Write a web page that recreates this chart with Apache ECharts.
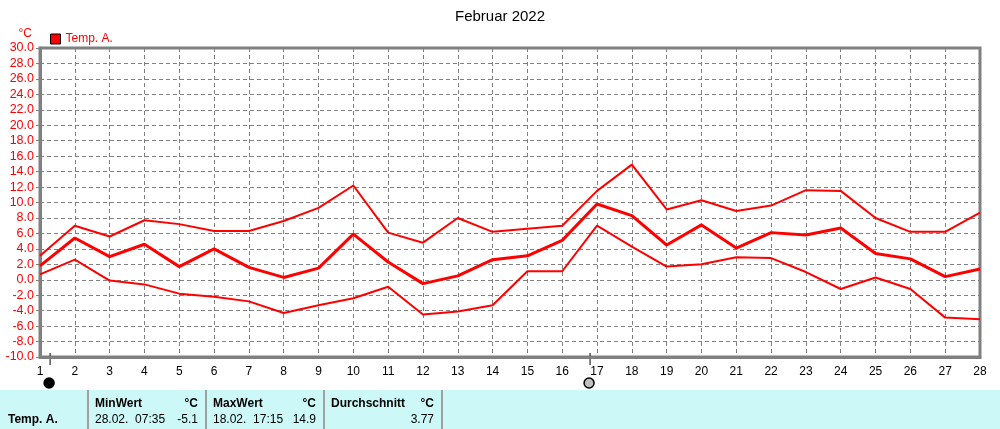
<!DOCTYPE html>
<html>
<head>
<meta charset="utf-8">
<title>Februar 2022</title>
<script src="https://cdn.jsdelivr.net/npm/echarts@6/dist/echarts.min.js"></script>
<style>
  html, body { margin: 0; padding: 0; background: #fff; }
  #chart { width: 1000px; height: 429px; }
</style>
</head>
<body>
<div id="chart"></div>
<script>
// daily values, Februar 2022 (°C)
const days = Array.from({ length: 28 }, (_, i) => i + 1);
const maxTemp = [3.1, 7.0, 5.6, 7.7, 7.2, 6.3, 6.3, 7.6, 9.3, 12.2, 6.1, 4.8, 8.0, 6.2, 6.6, 7.0, 11.5, 14.9, 9.1, 10.3, 8.9, 9.6, 11.6, 11.5, 8.0, 6.2, 6.2, 8.7];
const meanTemp = [1.8, 5.4, 3.0, 4.6, 1.7, 4.0, 1.6, 0.3, 1.5, 5.9, 2.3, -0.5, 0.5, 2.6, 3.1, 5.1, 9.8, 8.3, 4.5, 7.1, 4.1, 6.1, 5.8, 6.7, 3.4, 2.7, 0.4, 1.4];
const minTemp = [0.7, 2.6, -0.1, -0.6, -1.8, -2.2, -2.8, -4.3, -3.3, -2.4, -0.9, -4.5, -4.1, -3.3, 1.1, 1.1, 7.0, 4.3, 1.7, 2.0, 2.9, 2.8, 1.0, -1.2, 0.3, -1.2, -4.9, -5.1];

// summary table
const tableHeaders = ['MinWert', 'MaxWert', 'Durchschnitt'];
const tableWhen = ['28.02.  07:35', '18.02.  17:15', ''];
const tableValues = ['-5.1', '14.9', '3.77'];
// cursor positions on the x axis
const cursors = [1.29, 16.8];

const font = 'Liberation Sans, Arial, sans-serif';
const grey = '#808080';

const chart = echarts.init(document.getElementById('chart'));

const toPairs = (arr) => arr.map((v, i) => [days[i], v]);

const option = {
  animation: false,
  textStyle: { fontFamily: font },
  title: {
    text: 'Februar 2022',
    left: 'center',
    top: 4,
    textStyle: { fontSize: 15, fontWeight: 'normal', color: '#000', fontFamily: font },
  },
  legend: {
    data: ['Temp. A.'],
    left: 45,
    top: 28,
    icon: 'rect',
    itemWidth: 10,
    itemHeight: 10,
    itemGap: 6,
    itemStyle: { borderColor: '#000', borderWidth: 1 },
    textStyle: { color: '#ff0000', fontSize: 12, fontFamily: font },
  },
  grid: {
    left: 40,
    right: 20,
    top: 48,
    bottom: 72,
    show: true,
    borderColor: grey,
    borderWidth: 3,
    containLabel: false,
  },
  xAxis: {
    type: 'value',
    min: 1,
    max: 28,
    interval: 1,
    axisLine: { onZero: false, lineStyle: { color: grey, width: 3 } },
    axisTick: { show: false },
    axisLabel: { color: '#000', fontSize: 12, margin: 9, fontFamily: font },
    splitLine: { show: true, lineStyle: { color: grey, width: 1, type: [4, 3] } },
  },
  yAxis: {
    type: 'value',
    min: -10,
    max: 30,
    interval: 2,
    name: '°C',
    nameGap: 8,
    nameTextStyle: { color: '#ff0000', fontSize: 12, align: 'right', padding: [0, 8, 0, 0], fontFamily: font },
    axisLine: { show: true, onZero: false, lineStyle: { color: grey, width: 3 } },
    axisTick: { show: true, length: 4, lineStyle: { color: grey } },
    axisLabel: {
      color: '#ff0000',
      fontSize: 12.5,
      margin: 6,
      fontFamily: font,
      formatter: (v) => v.toFixed(1),
    },
    splitLine: { show: true, lineStyle: { color: grey, width: 1, type: [4, 3] } },
  },
  series: [
    {
      name: 'Max',
      type: 'line',
      data: toPairs(maxTemp),
      showSymbol: false,
      lineStyle: { color: '#ff0000', width: 2 },
      itemStyle: { color: '#ff0000' },
    },
    {
      name: 'Temp. A.',
      type: 'line',
      data: toPairs(meanTemp),
      showSymbol: false,
      lineStyle: { color: '#ff0000', width: 3 },
      itemStyle: { color: '#ff0000' },
    },
    {
      name: 'Min',
      type: 'line',
      data: toPairs(minTemp),
      showSymbol: false,
      lineStyle: { color: '#ff0000', width: 2 },
      itemStyle: { color: '#ff0000' },
    },
  ],
};

chart.setOption(option);

// cursors below the axis and the summary table
const graphics = [];
cursors.forEach((c, i) => {
  const [px, py] = chart.convertToPixel('grid', [c, -10]);
  graphics.push({
    type: 'line',
    shape: { x1: px, y1: py - 4, x2: px, y2: py + 8 },
    style: { stroke: '#000', lineWidth: 1 },
  });
  graphics.push({
    type: 'circle',
    shape: { cx: px - 1, cy: py + 26, r: 5 },
    style: { fill: i === 0 ? '#000' : '#c0c0c0', stroke: '#000', lineWidth: 1.5 },
  });
});

const tableTop = 390;
graphics.push({
  type: 'rect',
  shape: { x: 0, y: tableTop, width: 1000, height: 39 },
  style: { fill: '#ccf8f8' },
});
graphics.push({
  type: 'text',
  style: { x: 8, y: 420, text: 'Temp. A.', font: 'bold 12px ' + font, fill: '#000', textVerticalAlign: 'middle' },
});
const colX = [88, 206, 324, 442];
colX.forEach((x) => {
  graphics.push({
    type: 'line',
    shape: { x1: x, y1: tableTop, x2: x, y2: 429 },
    style: { stroke: '#a0a0a0', lineWidth: 2 },
  });
});
tableHeaders.forEach((h, i) => {
  const x0 = colX[i] + 7;
  const x1 = colX[i + 1] - 8;
  graphics.push({ type: 'text', style: { x: x0, y: 404, text: h, font: 'bold 12px ' + font, fill: '#000', textVerticalAlign: 'middle' } });
  graphics.push({ type: 'text', style: { x: x1, y: 404, text: '°C', font: 'bold 12px ' + font, fill: '#000', textAlign: 'right', textVerticalAlign: 'middle' } });
  graphics.push({ type: 'text', style: { x: x0, y: 420, text: tableWhen[i], font: '12px ' + font, fill: '#000', textVerticalAlign: 'middle' } });
  graphics.push({ type: 'text', style: { x: x1, y: 420, text: tableValues[i], font: '12px ' + font, fill: '#000', textAlign: 'right', textVerticalAlign: 'middle' } });
});

chart.setOption({ graphic: { elements: graphics } });
</script>
</body>
</html>
